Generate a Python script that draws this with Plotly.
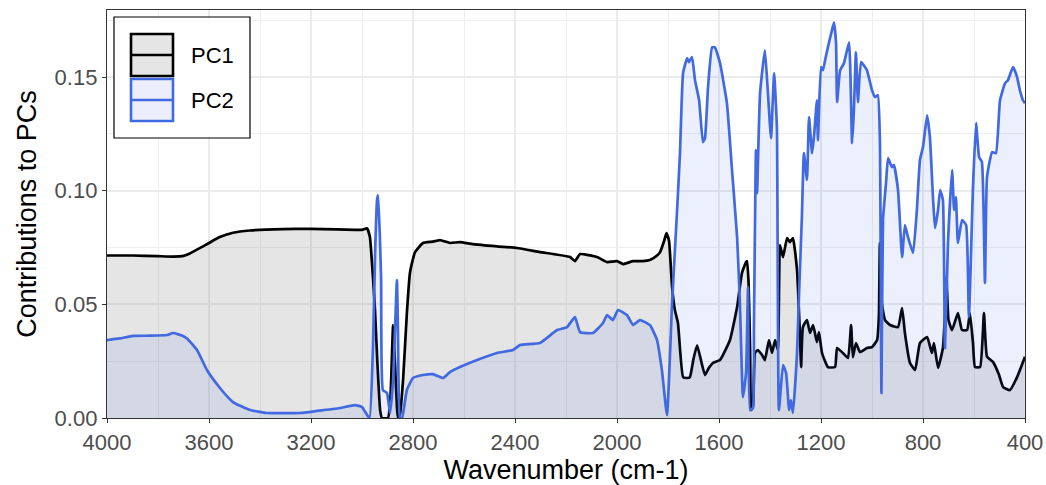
import plotly.graph_objects as go

# Loadings spectra for the first two principal components (wavenumber in cm-1)
wavenumber_pc1 = [
    4000, 3900, 3800, 3740, 3700, 3682, 3640, 3600, 3560, 3506, 3440, 3310, 3200, 3100,
    3027, 3000, 2980, 2969, 2957, 2949, 2940, 2929, 2922, 2898, 2888, 2878, 2871, 2863,
    2859, 2851, 2839, 2824, 2812, 2800, 2792, 2761, 2722, 2694, 2655, 2616, 2565, 2471,
    2392, 2302, 2184, 2165, 2145, 2078, 2039, 2000, 1976, 1937, 1900, 1871, 1843, 1831,
    1815, 1806, 1796, 1784, 1773, 1761, 1741, 1725, 1714, 1700, 1686, 1672, 1655, 1640,
    1624, 1596, 1557, 1529, 1510, 1494, 1490, 1484, 1478, 1474, 1467, 1459, 1448, 1431,
    1420, 1404, 1392, 1380, 1369, 1361, 1349, 1333, 1322, 1310, 1294, 1290, 1282, 1278,
    1271, 1255, 1243, 1231, 1216, 1208, 1196, 1173, 1145, 1137, 1114, 1094, 1082, 1075,
    1063, 1047, 1020, 1000, 980, 973, 969, 961, 949, 929, 898, 882, 871, 851, 831, 812,
    784, 765, 757, 741, 722, 714, 708, 700, 686, 663, 647, 627, 616, 604, 596, 576, 561,
    549, 525, 502, 486, 459, 431, 400,
]
pc1 = [
    0.0715, 0.0715, 0.0712, 0.0710, 0.0713, 0.0720, 0.0745, 0.0770, 0.0795, 0.0815, 0.0825,
    0.0831, 0.0832, 0.0830, 0.0828, 0.0828, 0.0834, 0.0796, 0.0620, 0.0475, 0.0250, 0.0035,
    0.0, 0.0, 0.0100, 0.0409, 0.0250, 0.0050, 0.0, 0.0020, 0.0167, 0.0462, 0.0638, 0.0700,
    0.0730, 0.0770, 0.0776, 0.0783, 0.0770, 0.0774, 0.0765, 0.0755, 0.0748, 0.0730, 0.0708,
    0.0690, 0.0721, 0.0708, 0.0686, 0.0690, 0.0677, 0.0690, 0.0690, 0.0695, 0.0715, 0.0730,
    0.0780, 0.0814, 0.0780, 0.0576, 0.0475, 0.0418, 0.0180, 0.0176, 0.0180, 0.0260, 0.0320,
    0.0260, 0.0189, 0.0220, 0.0242, 0.0255, 0.0343, 0.0488, 0.0638, 0.0686, 0.0690, 0.0594,
    0.0300, 0.0035, 0.0050, 0.0286, 0.0299, 0.0277, 0.0255, 0.0343, 0.0286, 0.0343, 0.0299,
    0.0761, 0.0708, 0.0792, 0.0774, 0.0792, 0.0651, 0.0563, 0.0350, 0.0224, 0.0400, 0.0431,
    0.0374, 0.0409, 0.0334, 0.0378, 0.0286, 0.0224, 0.0224, 0.0308, 0.0286, 0.0264, 0.0409,
    0.0268, 0.0330, 0.0290, 0.0308, 0.0312, 0.0343, 0.0450, 0.0770, 0.0500, 0.0431, 0.0409,
    0.0400, 0.0484, 0.0374, 0.0242, 0.0211, 0.0330, 0.0356, 0.0286, 0.0330, 0.0220, 0.0308,
    0.0450, 0.0620, 0.0431, 0.0387, 0.0462, 0.0387, 0.0387, 0.0462, 0.0330, 0.0224, 0.0224,
    0.0462, 0.0270, 0.0246, 0.0190, 0.0136, 0.0123, 0.0180, 0.0270,
]

wavenumber_pc2 = [
    4000, 3950, 3898, 3830, 3765, 3741, 3700, 3686, 3647, 3608, 3557, 3506, 3439, 3373,
    3243, 3176, 3086, 3027, 3000, 2980, 2970, 2957, 2948, 2941, 2937, 2930, 2925, 2918,
    2902, 2890, 2878, 2863, 2859, 2851, 2843, 2824, 2800, 2761, 2722, 2682, 2655, 2616,
    2549, 2471, 2408, 2380, 2302, 2235, 2196, 2165, 2145, 2094, 2055, 2039, 2016, 1996,
    1961, 1937, 1910, 1871, 1843, 1824, 1804, 1784, 1765, 1753, 1741, 1725, 1718, 1706,
    1694, 1678, 1663, 1655, 1643, 1627, 1616, 1596, 1569, 1549, 1529, 1518, 1506, 1494,
    1486, 1478, 1467, 1463, 1455, 1451, 1439, 1420, 1408, 1396, 1384, 1373, 1365, 1349,
    1337, 1325, 1318, 1310, 1294, 1286, 1275, 1267, 1255, 1247, 1235, 1227, 1216, 1212,
    1200, 1192, 1184, 1173, 1157, 1149, 1141, 1137, 1125, 1110, 1090, 1078, 1071, 1063,
    1055, 1043, 1020, 1000, 988, 977, 969, 963, 957, 945, 937, 922, 914, 898, 882, 871,
    859, 839, 824, 812, 800, 784, 773, 761, 753, 741, 733, 722, 714, 702, 686, 678, 671,
    663, 647, 631, 620, 604, 592, 580, 569, 557, 549, 529, 514, 498, 478, 467, 447, 431,
    420, 408, 400,
]
pc2 = [
    0.0343, 0.0350, 0.0361, 0.0362, 0.0365, 0.0374, 0.0360, 0.0350, 0.0299, 0.0211, 0.0132,
    0.0070, 0.0035, 0.0022, 0.0022, 0.0031, 0.0044, 0.0057, 0.0048, 0.0013, 0.0, 0.0312,
    0.0750, 0.0959, 0.0981, 0.0800, 0.0607, 0.0123, 0.0110, 0.0022, 0.0167, 0.0607, 0.0387,
    0.0, 0.0, 0.0123, 0.0176, 0.0189, 0.0193, 0.0176, 0.0202, 0.0224, 0.0255, 0.0286,
    0.0299, 0.0321, 0.0330, 0.0387, 0.0400, 0.0444, 0.0378, 0.0374, 0.0418, 0.0453, 0.0431,
    0.0475, 0.0453, 0.0409, 0.0431, 0.0409, 0.0343, 0.0211, 0.0013, 0.0506, 0.0901, 0.1165,
    0.1517, 0.1583, 0.1566, 0.1588, 0.1486, 0.1398, 0.1214, 0.1231, 0.1456, 0.1631, 0.1631,
    0.1561, 0.1385, 0.1091, 0.0796, 0.0506, 0.0092, 0.0198, 0.0576, 0.0035, 0.0044, 0.0400,
    0.1179, 0.0989, 0.1429, 0.1618, 0.1429, 0.1231, 0.1517, 0.1280, 0.0035, 0.0233, 0.0198,
    0.0035, 0.0079, 0.0022, 0.0286, 0.0550, 0.0884, 0.1165, 0.1047, 0.1324, 0.1165, 0.1245,
    0.1398, 0.1222, 0.1544, 0.1530, 0.1574, 0.1631, 0.1706, 0.1741, 0.1649, 0.1390, 0.1530,
    0.1561, 0.1653, 0.1209, 0.1354, 0.1609, 0.1390, 0.1566, 0.1530, 0.1442, 0.1412, 0.1420,
    0.1222, 0.0110, 0.0871, 0.1033, 0.1143, 0.1104, 0.1113, 0.1003, 0.0708, 0.0849, 0.0796,
    0.0726, 0.0915, 0.1135, 0.1192, 0.1332, 0.1236, 0.0972, 0.0836, 0.0915, 0.1003, 0.0959,
    0.0308, 0.0770, 0.1091, 0.0915, 0.0972, 0.0770, 0.0871, 0.0849, 0.0444, 0.1016, 0.1297,
    0.1148, 0.1126, 0.0594, 0.1060, 0.1170, 0.1165, 0.1398, 0.1473, 0.1486, 0.1544, 0.1500,
    0.1442, 0.1398, 0.1385,
]

series_names = ["PC1", "PC2"]
x_ticks = [4000, 3600, 3200, 2800, 2400, 2000, 1600, 1200, 800, 400]
y_ticks = [0.00, 0.05, 0.10, 0.15]

LINE_COLORS = ["#000000", "#4169E1"]
FILL_COLORS = ["rgba(127,127,127,0.2)", "rgba(65,105,225,0.1)"]
KEY_FILLS = ["#E5E5E5", "#ECEFFB"]
FONT = "Liberation Sans, Arial, sans-serif"

W, H = 1046, 485
M = dict(l=107, r=21, t=10, b=67)
PW, PH = W - M["l"] - M["r"], H - M["t"] - M["b"]


def px(x):
    return (x - M["l"]) / PW


def py(y):
    return (H - M["b"] - y) / PH


fig = go.Figure()
for wn, vals, name, lc, fc in zip(
    [wavenumber_pc1, wavenumber_pc2], [pc1, pc2], series_names, LINE_COLORS, FILL_COLORS
):
    fig.add_trace(go.Scatter(
        x=wn, y=vals, name=name, mode="lines", fill="tozeroy",
        line=dict(color=lc, width=2.7, shape="spline", smoothing=0.4),
        fillcolor=fc, showlegend=False,
    ))

# Legend drawn as keyed boxes in the upper-left of the panel
shapes = [dict(type="rect", xref="paper", yref="paper", x0=px(114), x1=px(250),
               y0=py(138), y1=py(17), line=dict(color="#000000", width=1.2),
               fillcolor="white", layer="above")]
annotations = []
key_tops = [34, 79]
for name, top, lc, kf in zip(series_names, key_tops, LINE_COLORS, KEY_FILLS):
    shapes.append(dict(type="rect", xref="paper", yref="paper", x0=px(131), x1=px(173),
                       y0=py(top + 42), y1=py(top), line=dict(color=lc, width=2.6),
                       fillcolor=kf, layer="above"))
    shapes.append(dict(type="line", xref="paper", yref="paper", x0=px(132), x1=px(172),
                       y0=py(top + 21), y1=py(top + 21), line=dict(color=lc, width=2.4),
                       layer="above"))
    annotations.append(dict(text=name, xref="paper", yref="paper", x=px(189), y=py(top + 21),
                            xanchor="left", yanchor="middle", showarrow=False,
                            font=dict(family=FONT, size=22, color="#000000")))

axis_common = dict(
    automargin=False,
    showline=True, linecolor="#333333", linewidth=1.3, mirror=True,
    ticks="outside", ticklen=4, tickwidth=1.3, tickcolor="#333333",
    showgrid=True, gridcolor="#EBEBEB", gridwidth=1.6, zeroline=False,
    tickfont=dict(family=FONT, size=22, color="#4D4D4D"),
)

fig.update_layout(
    width=W, height=H, margin=M,
    paper_bgcolor="white", plot_bgcolor="white",
    shapes=shapes, annotations=annotations,
    xaxis=dict(
        range=[4000, 400], tickvals=x_ticks, ticktext=[str(t) for t in x_ticks],
        minor=dict(dtick=200, tick0=0, showgrid=True, gridcolor="#EEEEEE", gridwidth=1, ticks=""),
        title=dict(text="Wavenumber (cm-1)", standoff=6,
                   font=dict(family=FONT, size=27, color="#000000")),
        **axis_common,
    ),
    yaxis=dict(
        range=[0, 0.1795], tickvals=y_ticks, ticktext=[f"{t:.2f}" for t in y_ticks],
        minor=dict(dtick=0.025, tick0=0, showgrid=True, gridcolor="#EEEEEE", gridwidth=1, ticks=""),
        title=dict(text="Contributions to PCs", standoff=10,
                   font=dict(family=FONT, size=27, color="#000000")),
        **axis_common,
    ),
)

fig.write_html("out.html")
